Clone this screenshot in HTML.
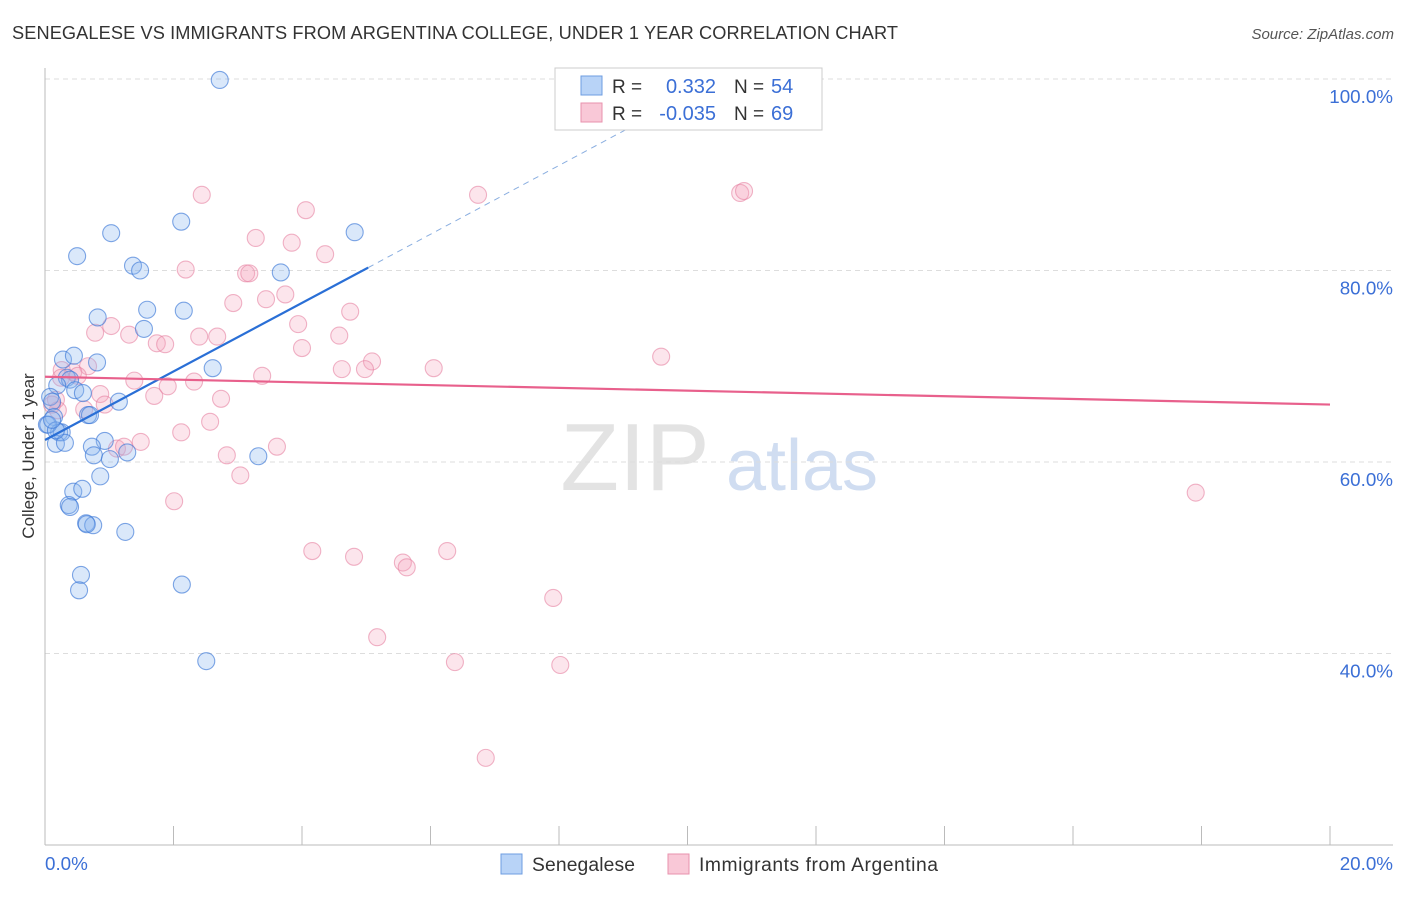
<!DOCTYPE html>
<html><head><meta charset="utf-8">
<style>
body{margin:0;background:#fff;font-family:"Liberation Sans",sans-serif;}
svg text{font-family:"Liberation Sans",sans-serif;}
</style></head>
<body>
<svg id="chart" width="1406" height="892">
<text x="12" y="39" font-size="18.2" fill="#333" textLength="886">SENEGALESE VS IMMIGRANTS FROM ARGENTINA COLLEGE, UNDER 1 YEAR CORRELATION CHART</text>
<text x="1394" y="39" font-size="15" fill="#555" font-style="italic" text-anchor="end">Source: ZipAtlas.com</text>
<g>
<text x="635" y="490" font-size="96" fill="#ddd" font-family="Liberation Serif" text-anchor="middle" opacity="0.8">ZIP</text>
<text x="802" y="490" font-size="72" fill="#c5d5ee" text-anchor="middle" opacity="0.8">atlas</text>
</g>
<g id="grid"></g>
<g id="axes"></g>
<g id="marks"></g>
<text transform="translate(34,456) rotate(-90)" font-size="17" fill="#333" text-anchor="middle">College, Under 1 year</text>
<g>
<rect x="555" y="68" width="267" height="62" fill="#fff" stroke="#ccc"/>
<rect x="581" y="76" width="21" height="19" fill="#b8d3f7" stroke="#6e9de0"/>
<rect x="581" y="103" width="21" height="19" fill="#f9c8d7" stroke="#e892ad"/>
<text x="612" y="93" font-size="19" fill="#333">R =</text>
<text x="716" y="93" font-size="20" fill="#3b6fd6" text-anchor="end">0.332</text>
<text x="734" y="93" font-size="19" fill="#333">N =</text>
<text x="771" y="93" font-size="20" fill="#3b6fd6">54</text>
<text x="612" y="120" font-size="19" fill="#333">R =</text>
<text x="716" y="120" font-size="20" fill="#3b6fd6" text-anchor="end">-0.035</text>
<text x="734" y="120" font-size="19" fill="#333">N =</text>
<text x="771" y="120" font-size="20" fill="#3b6fd6">69</text>
</g>
<g>
<rect x="501" y="854" width="21" height="20" fill="#b8d3f7" stroke="#6e9de0"/>
<text x="532" y="871" font-size="19.3" fill="#333" textLength="103">Senegalese</text>
<rect x="668" y="854" width="21" height="20" fill="#f9c8d7" stroke="#e892ad"/>
<text x="699" y="871" font-size="19.3" fill="#333" textLength="239">Immigrants from Argentina</text>
</g>
</svg>
<script>
const yTicks=[40,60,80,100];
const yTickLabels=["40.0%","60.0%","80.0%","100.0%"];
const xTicks=[0,2,4,6,8,10,12,14,16,18,20];
const blueX=[2.72,2.12,1.03,4.82,0.50,1.37,1.48,3.67,0.82,1.59,2.16,1.54,0.28,0.45,0.81,2.61,0.34,0.39,0.19,0.47,0.59,1.15,0.08,0.11,0.67,0.70,0.14,0.03,0.22,0.26,0.17,0.31,0.93,0.73,1.28,0.76,1.01,3.32,0.86,0.44,0.58,0.37,0.39,0.64,0.75,0.65,1.25,0.56,0.53,2.13,2.51,0.05,0.17,0.11];
const blueY=[99.9,85.1,83.9,84.0,81.5,80.5,80.0,79.8,75.1,75.9,75.8,73.9,70.7,71.1,70.4,69.8,68.8,68.6,68.0,67.5,67.2,66.3,66.8,66.3,64.9,64.9,64.7,63.9,63.1,63.1,61.9,62.0,62.2,61.6,61.0,60.7,60.3,60.6,58.5,56.9,57.2,55.5,55.3,53.6,53.4,53.5,52.7,48.2,46.6,47.2,39.2,63.9,63.3,64.4];
const pinkX=[8.20,8.95,2.44,6.74,10.82,10.88,4.06,3.28,3.84,4.36,2.19,3.13,3.18,2.93,3.44,3.74,4.75,1.03,0.78,3.94,4.58,2.40,2.68,1.74,4.00,1.87,1.31,9.59,5.09,4.98,4.62,6.05,0.26,0.67,0.44,0.25,0.51,3.38,1.39,2.32,1.91,1.70,0.86,2.74,0.93,0.17,0.20,0.61,2.57,2.12,1.49,1.12,1.23,3.61,2.83,3.04,2.01,17.91,4.16,6.26,4.81,5.57,5.63,7.91,5.17,6.38,8.02,6.86,0.11];
const pinkY=[97.0,99.7,87.9,87.9,88.1,88.3,86.3,83.4,82.9,81.7,80.1,79.7,79.7,76.6,77.0,77.5,75.7,74.2,73.5,74.4,73.2,73.1,73.1,72.4,71.9,72.3,73.3,71.0,70.5,69.7,69.7,69.8,69.6,70.0,69.4,68.8,69.0,69.0,68.5,68.4,67.9,66.9,67.1,66.6,66.0,66.5,65.4,65.5,64.2,63.1,62.1,61.4,61.6,61.6,60.7,58.6,55.9,56.8,50.7,50.7,50.1,49.5,49.0,45.8,41.7,39.1,38.8,29.1,66.0];
const blueTrend=[[0,62.3],[5.03,80.3]];
const blueDash=[[5.03,80.3],[9.4,96.0]];
const pinkTrend=[[0,68.9],[20,66.0]];
const NS="http://www.w3.org/2000/svg";
const xs=v=>45+v*64.25;
const ys=v=>79+(100-v)*9.575;
function mk(tag,attrs,parent){const e=document.createElementNS(NS,tag);for(const k in attrs)e.setAttribute(k,attrs[k]);parent.appendChild(e);return e;}
const grid=document.getElementById('grid'),axes=document.getElementById('axes'),marks=document.getElementById('marks');
yTicks.forEach((t,i)=>{
 const l=mk('line',{x1:45,x2:1393,y1:ys(t),y2:ys(t),stroke:'#ddd','stroke-dasharray':'5,4'},grid);
 
 
 const tx=mk('text',{x:1393,y:ys(t)+24,'font-size':18.8,fill:'#3b6fd6','text-anchor':'end'},axes);
 tx.textContent=yTickLabels[i];
 
 
});
const ya=mk('line',{x1:45,x2:45,y1:68,y2:845,stroke:'#bbb'},axes);


const xa=mk('line',{x1:45,x2:1393,y1:845,y2:845,stroke:'#bbb'},axes);


xTicks.forEach(t=>{
 const l=mk('line',{x1:xs(t),x2:xs(t),y1:826,y2:845,stroke:'#bbb'},axes);
 
 
});
[[0,'0.0%','start',45],[20,'20.0%','end',1393]].forEach(a=>{
 const tx=mk('text',{x:a[3],y:870,'font-size':18.8,fill:'#3b6fd6','text-anchor':a[2]},axes);
 tx.textContent=a[1];
 
 
});
pinkX.forEach((x,i)=>{
 const c=mk('circle',{cx:xs(x),cy:ys(pinkY[i]),r:8.5,fill:'rgba(244,160,186,0.28)',stroke:'rgba(230,130,162,0.6)','stroke-width':1.1},marks);
 
 
});
blueX.forEach((x,i)=>{
 const c=mk('circle',{cx:xs(x),cy:ys(blueY[i]),r:8.5,fill:'rgba(140,185,240,0.32)',stroke:'rgba(60,120,215,0.65)','stroke-width':1.1},marks);
 
 
});
const bt=mk('line',{x1:xs(blueTrend[0][0]),y1:ys(blueTrend[0][1]),x2:xs(blueTrend[1][0]),y2:ys(blueTrend[1][1]),stroke:'#2a6fd6','stroke-width':2.2},marks);


const bd=mk('line',{x1:xs(blueDash[0][0]),y1:ys(blueDash[0][1]),x2:xs(blueDash[1][0]),y2:ys(blueDash[1][1]),stroke:'#8aaee0','stroke-width':1,'stroke-dasharray':'6,5'},marks);


const pt=mk('line',{x1:xs(pinkTrend[0][0]),y1:ys(pinkTrend[0][1]),x2:xs(pinkTrend[1][0]),y2:ys(pinkTrend[1][1]),stroke:'#e8608c','stroke-width':2.2},marks);


</script>
</body></html>
